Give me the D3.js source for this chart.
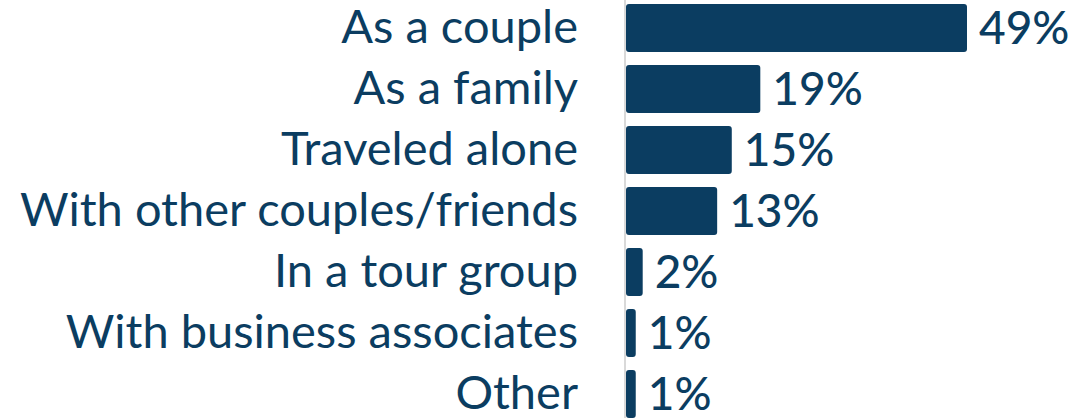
<!DOCTYPE html>
<html>
<head>
<meta charset="utf-8">
<script src="https://cdn.jsdelivr.net/npm/d3@7"></script>
<style>
  body { margin: 0; background: #fff; }
  text { font-family: Lato, "Open Sans", sans-serif; }
</style>
</head>
<body>
<script>
let w = 1086;
let h = 418;

let categories = ["As a couple", "As a family", "Traveled alone", "With other couples/friends",
  "In a tour group", "With business associates", "Other"];
let values = [49, 19.3, 15.2, 13.1, 2.4, 1.4, 1.4];
let valueLabels = ["49%", "19%", "15%", "13%", "2%", "1%", "1%"];

let barColor = "#0b3d61";
let axisX = 625;

let x = d3.scaleLinear().domain([0, 49]).range([626, 967]);
let y = d3.scaleBand()
  .domain(categories)
  .range([-2.5, 424.5])
  .paddingInner(13 / 61)
  .paddingOuter(6.5 / 61);

let svg = d3.select("body").append("svg").attr("width", w).attr("height", h);

svg.append("line")
  .attr("x1", axisX).attr("x2", axisX)
  .attr("y1", 0).attr("y2", h)
  .attr("stroke", "#d9d9d9")
  .attr("stroke-width", 2);

let rows = categories.map((c, i) => ({ cat: c, val: values[i], lab: valueLabels[i] }));

svg.selectAll("rect.bar")
  .data(rows)
  .enter()
  .append("rect")
  .attr("class", "bar")
  .attr("x", x(0))
  .attr("y", (d) => y(d.cat))
  .attr("width", (d) => x(d.val) - x(0))
  .attr("height", y.bandwidth())
  .attr("rx", 3)
  .attr("fill", barColor);

svg.selectAll("text.cat")
  .data(rows)
  .enter()
  .append("text")
  .attr("class", "cat")
  .attr("x", 578)
  .attr("y", (d) => y(d.cat) + y.bandwidth() / 2 + 15)
  .attr("text-anchor", "end")
  .attr("font-size", 47)
  .attr("fill", barColor)
  .text((d) => d.cat);

svg.selectAll("text.val")
  .data(rows)
  .enter()
  .append("text")
  .attr("class", "val")
  .attr("x", (d) => x(d.val) + 12)
  .attr("y", (d) => y(d.cat) + y.bandwidth() / 2 + 16)
  .attr("font-size", 46)
  .attr("font-weight", 500)
  .attr("fill", barColor)
  .text((d) => d.lab);
</script>
</body>
</html>
